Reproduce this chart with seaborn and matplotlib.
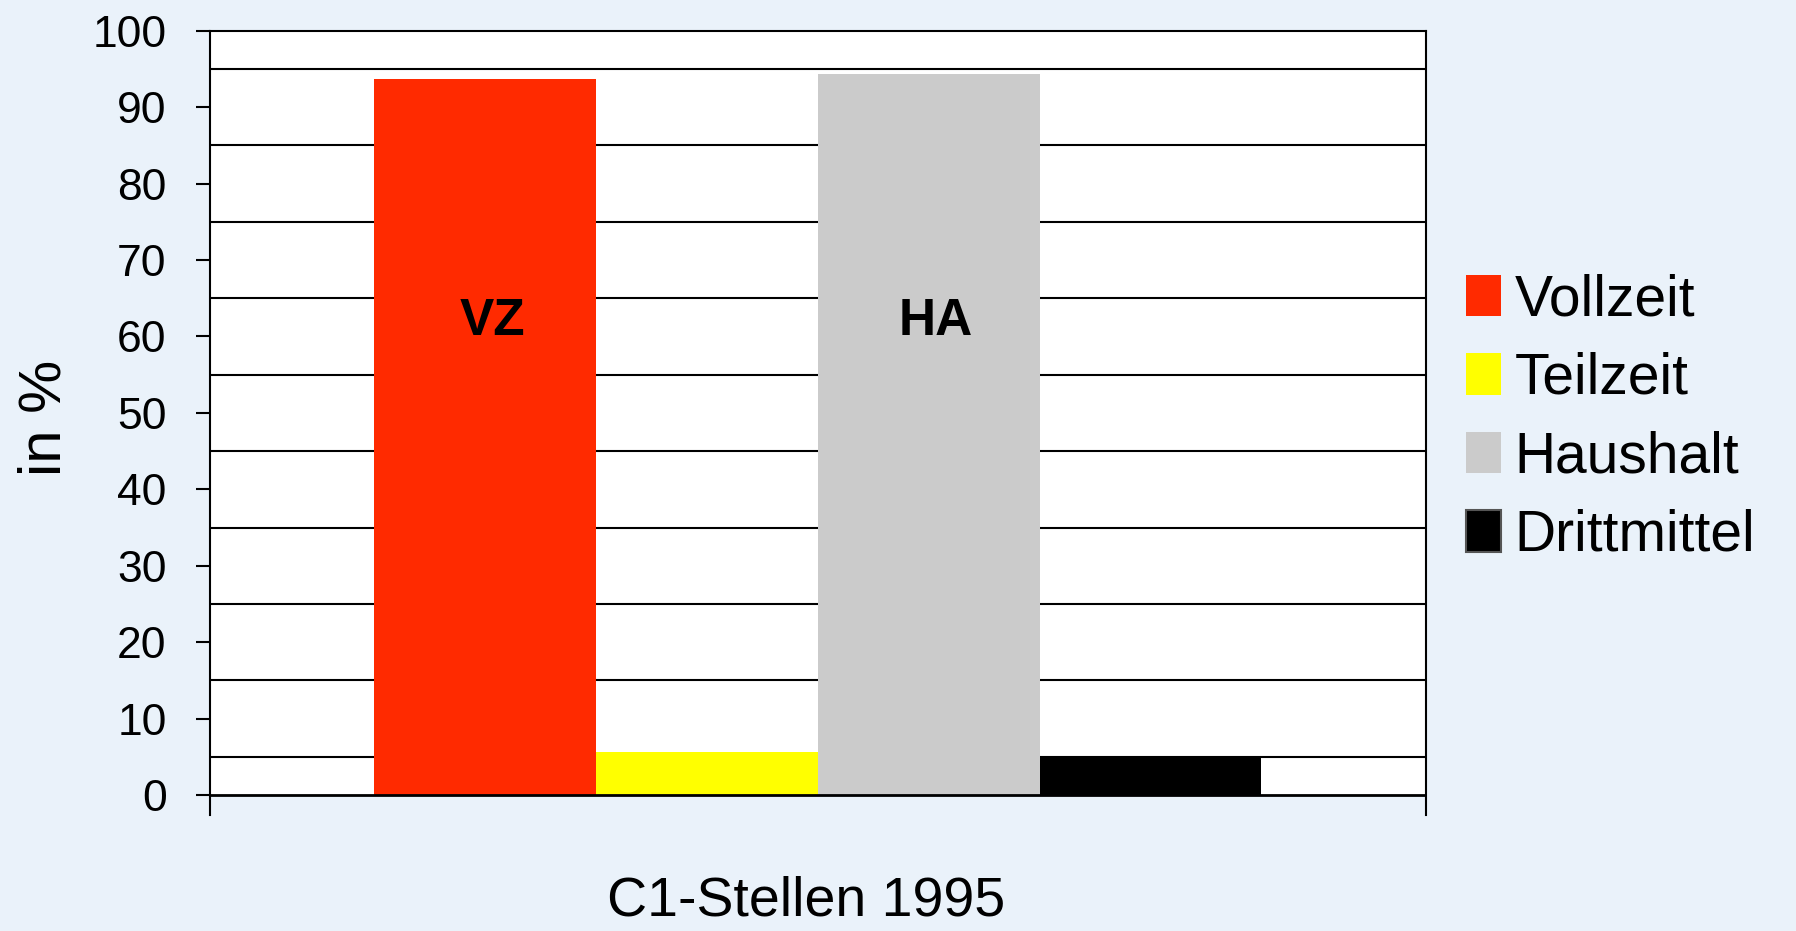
import numpy as np
import pandas as pd
import matplotlib
matplotlib.use("Agg")
import matplotlib.pyplot as plt
import seaborn as sns

categories = ["C1-Stellen 1995"]
series = ["Vollzeit", "Teilzeit", "Haushalt", "Drittmittel"]
values = [93.7, 5.7, 94.4, 4.8]
colors = ["#FF2A00", "#FFFF00", "#CBCBCB", "#000000"]
yticks = [0, 10, 20, 30, 40, 50, 60, 70, 80, 90, 100]
bar_labels = ["VZ", "", "HA", ""]

df = pd.DataFrame({"Gruppe": categories * len(series), "Art": series, "Wert": values})

sns.set_theme(style="white")
plt.rcParams['font.family'] = ['Liberation Sans', 'DejaVu Sans']
plt.rcParams['text.color'] = 'black'
plt.rcParams['ytick.labelcolor'] = 'black'
plt.rcParams['ytick.color'] = 'black'

bg = "#EAF2FA"
fig = plt.figure(figsize=(17.96, 9.31), dpi=100, facecolor=bg)
ax = fig.add_axes([0.1167, 0.1246, 0.6773, 0.8424])
ax.set_facecolor(bg)
ax.axhspan(0, 100, color="white", zorder=0, lw=0)

sns.barplot(data=df, x="Gruppe", y="Wert", hue="Art", hue_order=series,
            palette=colors, width=0.729, gap=0, saturation=1, ax=ax,
            edgecolor="none", linewidth=0, legend=True)

ax.set_xlim(-0.5, 0.5)
ax.set_ylim(-2.6, 100)
ax.set_yticks(yticks)
ax.set_yticklabels([str(t) for t in yticks])
ax.set_yticks(np.arange(5, 100, 10), minor=True)
ax.set_axisbelow(True)
ax.grid(False)
ax.grid(which="minor", axis="y", color="black", lw=1.5)
ax.tick_params(axis="y", which="major", direction="out", length=10, width=1.5,
               color="black", labelcolor="black", labelsize=32, pad=21, left=True)
ax.tick_params(axis="y", which="minor", length=0)
ax.set_xticks([])
ax.set_xlabel("")
ax.set_ylabel("")
for s in ["left", "right", "top"]:
    ax.spines[s].set_visible(True)
    ax.spines[s].set_color("black")
    ax.spines[s].set_linewidth(1.5)
ax.spines["bottom"].set_visible(False)
ax.axhline(0, color="black", lw=2, zorder=3)

for cont, lab in zip(ax.containers, bar_labels):
    if lab:
        b = cont[0]
        ax.text(b.get_x() + b.get_width() / 2 + 0.006, 62, lab, ha="center", va="center",
                fontsize=37, fontweight="bold", color="black")

handles, labels = ax.get_legend_handles_labels()
ax.legend_.remove()
leg = fig.legend(handles, labels, loc="center left", bbox_to_anchor=(0.8165, 0.551),
                 frameon=False, fontsize=41, handlelength=0.6, handleheight=0.75,
                 handletextpad=0.25, labelspacing=0.43, borderaxespad=0, borderpad=0,
                 labelcolor="black")
leg.legend_handles[3].set_edgecolor("#555555")
leg.legend_handles[3].set_linewidth(1.5)

fig.text(0.025, 0.551, "in %", rotation=90, ha="center", va="center", fontsize=43)
fig.text(0.449, 0.032, "C1-Stellen 1995", ha="center", va="center", fontsize=40)

fig.savefig("out.png", dpi=100, facecolor=bg)
